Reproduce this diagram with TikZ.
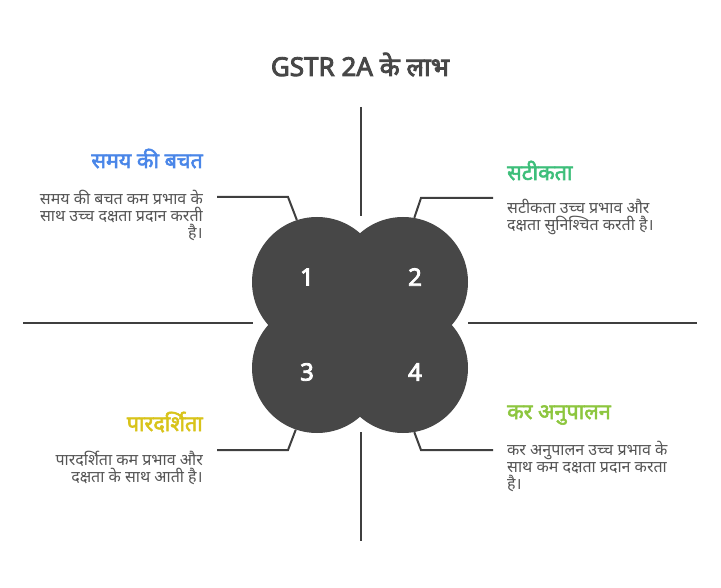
\documentclass[tikz,border=0pt]{standalone}
\usepackage{fontspec}
\setmainfont{Noto Sans}[Script=Devanagari, AutoFakeBold=2.6]
\newfontfamily\heavyfont{Noto Sans}[Script=Devanagari, FakeBold=3.4]
\usetikzlibrary{positioning}
\definecolor{blobgray}{HTML}{474747}
\definecolor{linegray}{HTML}{3F3F3F}
\definecolor{titlegray}{HTML}{474747}
\definecolor{bodygray}{HTML}{555555}
\definecolor{timeblue}{HTML}{4A86E8}
\definecolor{exactgreen}{HTML}{3DBE7A}
\definecolor{clearyellow}{HTML}{D8C31A}
\definecolor{taxgreen}{HTML}{8DC63F}
\begin{document}
\begin{tikzpicture}[x=1pt,y=-1pt,
  blob/.style={circle, fill=blobgray, minimum size=130pt, inner sep=0pt},
  num/.style={text=white, font=\heavyfont\fontsize{24}{24}\selectfont},
  head/.style={font=\bfseries\fontsize{21.5}{22}\selectfont, inner sep=0pt},
  body/.style={text=bodygray, font=\fontsize{16}{17}\selectfont, inner sep=0pt},
  link/.style={draw=linegray, line width=2pt},
  axis/.style={draw=linegray, line width=2pt}]
\useasboundingbox (0,0) rectangle (721,588);
% title
\node[font=\heavyfont\fontsize{26}{28}\selectfont, text=titlegray, anchor=base] (title) at (360,76) {GSTR 2A के लाभ};
% axes
\draw[axis] (361,107) -- (361,216);
\draw[axis] (361,432) -- (361,541);
\draw[axis] (23,323) -- (253,323);
\draw[axis] (468,323) -- (697,323);
% four circles
\node[blob] (c1) at (317,282) {};
\node[blob] (c2) at (403,282) {};
\node[blob] (c3) at (317,368) {};
\node[blob] (c4) at (403,368) {};
\node[num] (n1) at (307,277) {1};
\node[num] (n2) at (415,277) {2};
\node[num] (n3) at (307,372) {3};
\node[num] (n4) at (415,372) {4};
% top left
\node[head, text=timeblue, anchor=base east] (h1) at (203,168) {समय की बचत};
\node[body, align=right, anchor=north east] (d1) at (203,190) {समय की बचत कम प्रभाव के\\साथ उच्च दक्षता प्रदान करती\\है।};
% top right
\node[head, text=exactgreen, anchor=base west] (h2) at (507,180) {सटीकता};
\node[body, align=left, anchor=north west] (d2) at (507,199) {सटीकता उच्च प्रभाव और\\दक्षता सुनिश्चित करती है।};
% bottom left
\node[head, text=clearyellow, anchor=base east] (h3) at (203,431) {पारदर्शिता};
\node[body, align=right, anchor=north east] (d3) at (203,451) {पारदर्शिता कम प्रभाव और\\दक्षता के साथ आती है।};
% bottom right
\node[head, text=taxgreen, anchor=base west] (h4) at (507,419) {कर अनुपालन};
\node[body, align=left, anchor=north west] (d4) at (507,441) {कर अनुपालन उच्च प्रभाव के\\साथ कम दक्षता प्रदान करता\\है।};
% connectors
\coordinate (p1) at (217,197);
\coordinate (p2) at (493,198);
\coordinate (p3) at (217,450);
\coordinate (p4) at (493,450);
\draw[link] (p1) -- (288,197) -- (c1.108);
\draw[link] (p2) -- (421,198) -- (c2.80);
\draw[link] (p3) -- (288,450) -- (c3.251);
\draw[link] (p4) -- (421,450) -- (c4.280);
\end{tikzpicture}
\end{document}
